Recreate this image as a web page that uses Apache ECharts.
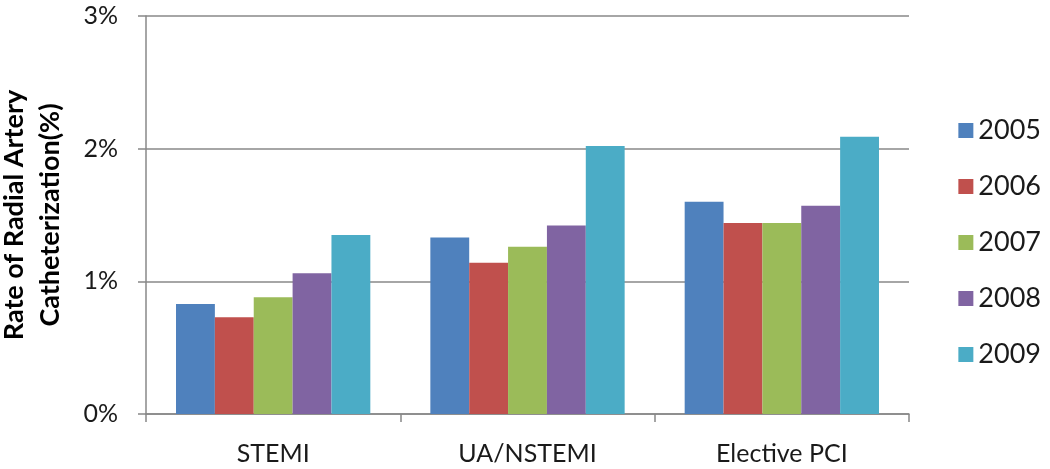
<!DOCTYPE html>
<html><head><meta charset="utf-8">
<script src="https://cdn.jsdelivr.net/npm/echarts@6/dist/echarts.min.js"></script>
<style>html,body{margin:0;padding:0;background:#fff}#c{width:1050px;height:469px}</style>
</head><body><div id="c"></div>
<script>
const categories = ['STEMI', 'UA/NSTEMI', 'Elective PCI'];
const years = ['2005', '2006', '2007', '2008', '2009'];
const v2005 = [0.83, 1.33, 1.60];
const v2006 = [0.73, 1.14, 1.44];
const v2007 = [0.88, 1.26, 1.44];
const v2008 = [1.06, 1.42, 1.57];
const v2009 = [1.35, 2.02, 2.09];
const yTicks = [0, 1, 2, 3];
const colors = ['#4F81BD', '#C0504D', '#9BBB59', '#8064A2', '#4BACC6'];
const values = [v2005, v2006, v2007, v2008, v2009];

const chart = echarts.init(document.getElementById('c'));
chart.setOption({
  animation: false,
  textStyle: { fontFamily: 'Lato' },
  grid: { left: 146, right: 141, top: 16, bottom: 55, containLabel: false, outerBoundsMode: 'none' },
  legend: {
    orient: 'vertical', right: 4, top: 112, itemGap: 29,
    itemWidth: 15, itemHeight: 15, icon: 'rect',
    textStyle: { fontSize: 27, lineHeight: 26, color: '#1a1a1a', fontFamily: 'Lato' },
    data: years
  },
  xAxis: {
    type: 'category', data: categories,
    axisLine: { lineStyle: { color: '#888', width: 1.5 } },
    axisTick: { show: true, length: 8, lineStyle: { color: '#888', width: 1.5 } },
    axisLabel: { fontSize: 25, color: '#1a1a1a', margin: 27 }
  },
  yAxis: {
    type: 'value', min: 0, max: 3, interval: 1,
    axisLine: { show: true, lineStyle: { color: '#888', width: 1.5 } },
    axisTick: { show: true, inside: false, length: 8, lineStyle: { color: '#888', width: 1.5 } },
    splitLine: { lineStyle: { color: '#888', width: 1.5 } },
    axisLabel: { fontSize: 25, color: '#1a1a1a', margin: 28, formatter: v => yTicks.includes(v) ? v + '%' : '' },
    name: 'Rate of Radial Artery\nCatheterization(%)',
    nameLocation: 'middle', nameGap: 78, nameRotate: 90,
    nameTextStyle: { fontSize: 27, fontWeight: 'bold', color: '#000', lineHeight: 36, fontFamily: 'Lato' }
  },
  series: years.map((y, i) => ({
    name: y, type: 'bar', data: values[i],
    itemStyle: { color: colors[i] },
    barGap: '0%', barCategoryGap: '23.6%'
  }))
});
</script></body></html>
